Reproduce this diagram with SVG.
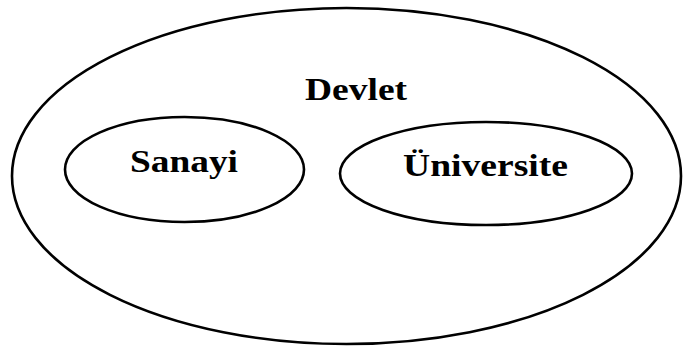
<svg xmlns="http://www.w3.org/2000/svg" width="683" height="347" viewBox="0 0 683 347">
<style>
.e{fill:none;stroke:#000;stroke-width:2.6}
.t{font-family:"Liberation Serif","Times New Roman",serif;font-weight:bold;font-size:32px;fill:#000}
</style>
<rect width="683" height="347" fill="#fff"/>
<g id="devlet">
<ellipse class="e" cx="346.5" cy="176" rx="334.5" ry="168"/>
<text class="t" x="305" y="100" textLength="102" lengthAdjust="spacingAndGlyphs">Devlet</text>
</g>
<g id="sanayi">
<ellipse class="e" cx="184.5" cy="169.5" rx="119.5" ry="52.5"/>
<text class="t" x="130" y="172" textLength="108" lengthAdjust="spacingAndGlyphs">Sanayi</text>
</g>
<g id="universite">
<ellipse class="e" cx="486" cy="173.5" rx="146" ry="51.5"/>
<text class="t" x="403" y="176" textLength="165" lengthAdjust="spacingAndGlyphs">Üniversite</text>
</g>
<g id="connectors"/>
</svg>
